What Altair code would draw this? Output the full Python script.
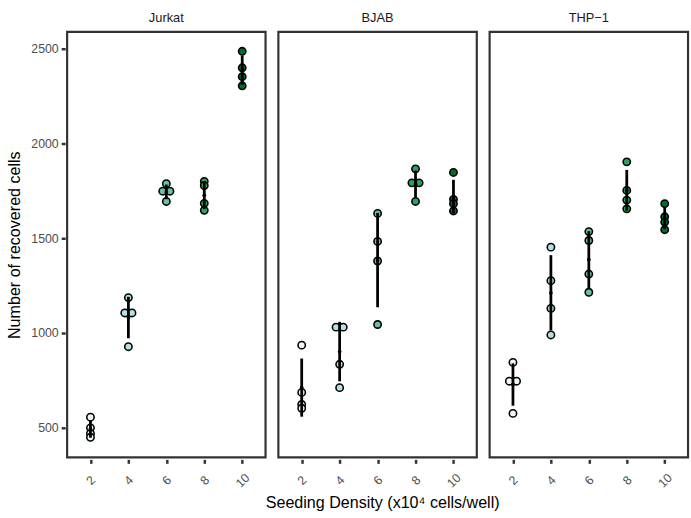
import altair as alt
import pandas as pd

panels = ["Jurkat", "BJAB", "THP\u22121"]
densities = [2, 4, 6, 8, 10]

jurkat_counts = [[556, 500, 470, 450], [1187, 1106, 1106, 928], [1788, 1748, 1748, 1694],
                 [1800, 1778, 1684, 1647], [2486, 2399, 2352, 2304]]
bjab_counts = [[936, 687, 623, 603], [1031, 1031, 835, 712], [1631, 1483, 1380, 1045],
               [1866, 1792, 1792, 1694], [1847, 1705, 1682, 1644]]
thp1_counts = [[845, 746, 746, 576], [1453, 1276, 1130, 990], [1535, 1488, 1311, 1215],
               [1903, 1752, 1701, 1655], [1682, 1613, 1585, 1545]]

# dotplot side-by-side index for tied values (-1 left, 0 centre, 1 right)
jurkat_dodge = [[0, 0, 0, 0], [0, -1, 1, 0], [0, -1, 1, 0], [0, 0, 0, 0], [0, 0, 0, 0]]
bjab_dodge = [[0, 0, 0, 0], [-1, 1, 0, 0], [0, 0, 0, 0], [0, -1, 1, 0], [0, 0, 0, 0]]
thp1_dodge = [[0, -1, 1, 0], [0, 0, 0, 0], [0, 0, 0, 0], [0, 0, 0, 0], [0, 0, 0, 0]]

palette = ["#edf8fb", "#b2e2e2", "#66c2a4", "#2ca25f", "#006d2c"]

rows = []
for name, counts, dodges in zip(panels, [jurkat_counts, bjab_counts, thp1_counts],
                                [jurkat_dodge, bjab_dodge, thp1_dodge]):
    for d, vals, dg in zip(densities, counts, dodges):
        for v, o in zip(vals, dg):
            rows.append({"line": name, "density": d, "count": v, "dodge": o})
df = pd.DataFrame(rows)

FONT = "Liberation Sans"
yscale = alt.Scale(domain=[344, 2588], nice=False, zero=False)
xscale = alt.Scale(domain=[0.77, 11.23], nice=False, zero=False)
ytitle = "Number of recovered cells"
xtitle = "Seeding Density (x10\u2074 cells/well)"

xaxis = alt.Axis(values=densities, grid=False, domain=False, tickColor="#333333",
                 tickWidth=2.5, tickSize=4, labelAngle=315, labelAlign="center",
                 labelBaseline="middle", labelPadding=17, labelColor="#4d4d4d",
                 labelFontSize=12.5, labelFont=FONT, title=None, format="d")
yaxis = alt.Axis(values=[500, 1000, 1500, 2000, 2500], grid=False, domain=False,
                 tickColor="#333333", tickWidth=2.5, tickSize=4, labelColor="#4d4d4d",
                 labelFontSize=12.5, labelFont=FONT, labelPadding=3, format="d",
                 title=ytitle, titleFont=FONT, titleFontSize=16.3,
                 titleFontWeight="normal", titleColor="black", titlePadding=8)

points = alt.Chart().transform_calculate(
    xpos="datum.density + datum.dodge * 0.19"
).mark_point(filled=True, stroke="black", strokeWidth=1.6, size=55, opacity=1).encode(
    x=alt.X("xpos:Q", scale=xscale, axis=xaxis),
    y=alt.Y("count:Q", scale=yscale, axis=yaxis),
    fill=alt.Fill("density:O", scale=alt.Scale(domain=densities, range=palette), legend=None),
)

bars = alt.Chart().mark_errorbar(extent="stdev", color="black", thickness=2.8).encode(
    x=alt.X("density:Q", scale=xscale, axis=xaxis),
    y=alt.Y("count:Q", scale=yscale, axis=yaxis),
)

means = alt.Chart().mark_point(filled=True, color="black", size=14, opacity=1).encode(
    x=alt.X("density:Q", scale=xscale, axis=xaxis),
    y=alt.Y("mean(count):Q", scale=yscale, axis=yaxis),
)

layer = alt.layer(points, bars, means, data=df).properties(width=201, height=431)

chart = layer.facet(
    column=alt.Column("line:N", sort=panels,
                      header=alt.Header(title=None, labelFont=FONT, labelFontSize=13,
                                        labelColor="#1a1a1a", labelPadding=5)),
    spacing=9,
).configure_view(stroke="#333333", strokeWidth=2.2).properties(
    title=alt.TitleParams(text=xtitle, orient="bottom", anchor="middle", font=FONT,
                          fontSize=16.3, fontWeight="normal", color="black", dx=35,
                          offset=6),
    padding={"left": 7, "top": 9, "right": 1, "bottom": 2}, background="white"
)

chart.save("out.html", embed_options={"renderer": "svg", "actions": False})
